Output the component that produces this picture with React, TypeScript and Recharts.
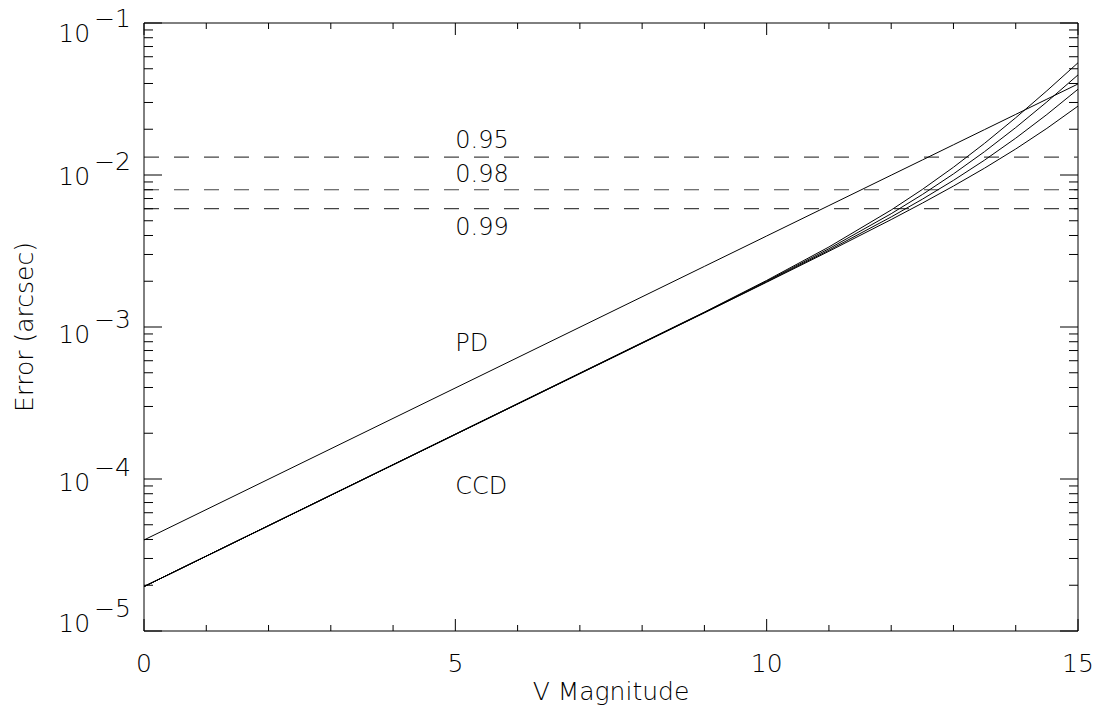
import React from 'react';
import { LineChart, Line, XAxis, YAxis, ReferenceLine, ReferenceDot, Label } from 'recharts';

// ---- data ----
const MAGS = [0, 9, 10, 11, 12, 12.5, 13, 13.5, 14, 14.5, 15];
const PD_ERR = [3.97e-5, 2.505e-3, 3.97e-3, 6.292e-3, 9.972e-3, 1.2554e-2, 1.5805e-2, 1.9898e-2, 2.505e-2, 3.1536e-2, 3.97e-2];
const CCD_A = [1.96e-5, 1.253e-3, 2.025e-3, 3.361e-3, 5.885e-3, 8.034e-3, 1.1248e-2, 1.6165e-2, 2.3808e-2, 3.5812e-2, 5.474e-2];
const CCD_B = [1.96e-5, 1.247e-3, 2.003e-3, 3.273e-3, 5.565e-3, 7.438e-3, 1.0166e-2, 1.4253e-2, 2.0513e-2, 3.0255e-2, 4.555e-2];
const CCD_C = [1.96e-5, 1.243e-3, 1.984e-3, 3.202e-3, 5.297e-3, 6.929e-3, 9.22e-3, 1.2533e-2, 1.7468e-2, 2.4996e-2, 3.667e-2];
const CCD_D = [1.96e-5, 1.239e-3, 1.971e-3, 3.149e-3, 5.091e-3, 6.53e-3, 8.456e-3, 1.1097e-2, 1.4829e-2, 2.0265e-2, 2.84e-2];

const CONF_LEVELS = [0.0131, 0.008, 0.006];

const ANNOTATIONS = [
  { text: '0.95', mag: 5, err: 0.015 },
  { text: '0.98', mag: 5, err: 0.009 },
  { text: '0.99', mag: 5, err: 0.004 },
  { text: 'PD', mag: 5, err: 7e-4 },
  { text: 'CCD', mag: 5, err: 8e-5 },
];

const X_TICKS = [0, 1, 2, 3, 4, 5, 6, 7, 8, 9, 10, 11, 12, 13, 14, 15];
const X_MAJOR_STEP = 5;
const Y_DECADES = [-5, -4, -3, -2];
const Y_MANTISSAS = [1, 2, 3, 4, 5, 6, 7, 8, 9];
const Y_TOP = 0.1;
const Y_TICKS: number[] = [];
Y_DECADES.forEach((d) => Y_MANTISSAS.forEach((m) => Y_TICKS.push(Number((m * Math.pow(10, d)).toPrecision(6)))));
Y_TICKS.push(Y_TOP);

const rows = MAGS.map((mag, i) => ({
  mag,
  pd: PD_ERR[i],
  a: CCD_A[i],
  b: CCD_B[i],
  c: CCD_C[i],
  d: CCD_D[i],
}));

// ---- layout ----
const W = 1094;
const H = 713;
const MARGIN = { top: 23, right: 16, bottom: 0, left: 0 };
const Y_AXIS_W = 144;
const X_AXIS_H = 82;
const PLOT_W = W - MARGIN.left - MARGIN.right - Y_AXIS_W;
const PLOT_H = H - MARGIN.top - MARGIN.bottom - X_AXIS_H;
const FONT = '"DejaVu Sans", sans-serif';
const FW = 200;
const INK = '#000';

const Y_LABEL_OFFSET: Record<string, number> = { '-1': 19, '-2': 10, '-3': 16, '-4': 12, '-5': 1 };

const XTick = (props: any) => {
  const { x, y, payload } = props;
  const v = payload.value;
  const major = v % X_MAJOR_STEP === 0;
  const len = major ? 12 : 6;
  return (
    <g>
      <line x1={x} y1={y} x2={x} y2={y - len} stroke={INK} strokeWidth={1} />
      <line x1={x} y1={y - PLOT_H} x2={x} y2={y - PLOT_H + len} stroke={INK} strokeWidth={1} />
      {major && (
        <text x={x} y={y + 41} textAnchor="middle" fontFamily={FONT} fontWeight={FW} fontSize={25} fill={INK}>
          {v}
        </text>
      )}
    </g>
  );
};

const YTick = (props: any) => {
  const { x, y, payload } = props;
  const v = payload.value;
  const lg = Math.log10(v);
  const exp = Math.round(lg);
  const major = Math.abs(lg - exp) < 1e-6;
  const len = major ? 18 : 9;
  const off = Y_LABEL_OFFSET[String(exp)] ?? 10;
  return (
    <g>
      <line x1={x} y1={y} x2={x + len} y2={y} stroke={INK} strokeWidth={1} />
      <line x1={x + PLOT_W} y1={y} x2={x + PLOT_W - len} y2={y} stroke={INK} strokeWidth={1} />
      {major && (
        <text x={x - 13} y={y + off} textAnchor="end" fontFamily={FONT} fontWeight={FW} fontSize={25} fill={INK}>
          <tspan>10</tspan>
          <tspan dx={4} dy={-15}>{'\u2212' + Math.abs(exp)}</tspan>
        </text>
      )}
    </g>
  );
};

const XTitle = (props: any) => {
  const vb = props.viewBox || {};
  return (
    <text x={vb.x + vb.width / 2} y={vb.y + 69} textAnchor="middle" fontFamily={FONT} fontWeight={FW} fontSize={25} fill={INK}>
      V Magnitude
    </text>
  );
};

const YTitle = (props: any) => {
  const vb = props.viewBox || {};
  const cx = 33;
  const cy = vb.y + vb.height / 2;
  return (
    <text x={cx} y={cy} transform={`rotate(-90, ${cx}, ${cy})`} textAnchor="middle" fontFamily={FONT} fontWeight={FW} fontSize={25} fill={INK}>
      Error (arcsec)
    </text>
  );
};

const SERIES = ['pd', 'a', 'b', 'c', 'd'];

export default function App() {
  return (
    <div style={{ position: 'fixed', left: 0, top: 0, width: W, height: H, overflow: 'hidden', background: '#fff' }}>
      <LineChart width={W} height={H} data={rows} margin={MARGIN}>
        <XAxis
          dataKey="mag"
          type="number"
          domain={[0, 15]}
          ticks={X_TICKS}
          interval={0}
          allowDataOverflow
          height={X_AXIS_H}
          tickSize={0}
          tickMargin={0}
          tickLine={false}
          axisLine={{ stroke: INK, strokeWidth: 1 }}
          tick={<XTick />}
        >
          <Label content={<XTitle />} />
        </XAxis>
        <YAxis
          type="number"
          scale="log"
          domain={[1e-5, 1e-1]}
          ticks={Y_TICKS}
          interval={0}
          allowDataOverflow
          width={Y_AXIS_W}
          tickSize={0}
          tickMargin={0}
          tickLine={false}
          axisLine={{ stroke: INK, strokeWidth: 1 }}
          tick={<YTick />}
        >
          <Label content={<YTitle />} />
        </YAxis>
        <ReferenceLine y={Y_TOP} stroke={INK} strokeWidth={1} ifOverflow="extendDomain" />
        <ReferenceLine x={15} stroke={INK} strokeWidth={1} />
        {CONF_LEVELS.map((lv) => (
          <ReferenceLine key={lv} y={lv} stroke="#444" strokeWidth={1.2} strokeDasharray="15 15" />
        ))}
        {SERIES.map((k) => (
          <Line key={k} dataKey={k} type="linear" stroke={INK} strokeWidth={1} dot={false} isAnimationActive={false} />
        ))}
        {ANNOTATIONS.map((a) => (
          <ReferenceDot
            key={a.text}
            x={a.mag}
            y={a.err}
            r={0}
            ifOverflow="visible"
            shape={(p: any) => (
              <text x={p.cx} y={p.cy} textAnchor="start" fontFamily={FONT} fontWeight={FW} fontSize={24} fill={INK}>
                {a.text}
              </text>
            )}
          />
        ))}
      </LineChart>
    </div>
  );
}
